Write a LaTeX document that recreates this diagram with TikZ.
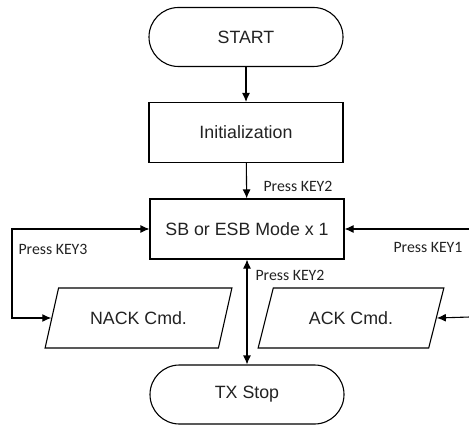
\documentclass[tikz,border=0pt]{standalone}
\usepackage{fontspec}
\setmainfont{Liberation Sans}
\newfontfamily\labfont{Carlito}
\usetikzlibrary{arrows.meta,shapes.geometric}
\definecolor{txt}{HTML}{222222}
\begin{document}
\begin{tikzpicture}[x=1pt,y=-1pt,
  line width=1.1pt,
  >={Latex[length=9pt,width=8pt]},
  every node/.style={text=txt},
  base/.style={draw=black,line width=1.1pt,inner sep=0pt,font=\fontsize{17.8}{20}\selectfont},
  terminal/.style={base,rounded corners=29.5pt,minimum width=194pt,minimum height=59pt},
  procbox/.style={base,minimum width=194pt,minimum height=60pt},
  iobox/.style={base,trapezium,trapezium left angle=58,trapezium right angle=122,trapezium stretches=true,minimum width=187pt,minimum height=60pt},
  lab/.style={font=\labfont\fontsize{15.8}{18}\selectfont,inner sep=0pt,anchor=west}
]
\useasboundingbox (0,0) rectangle (469,425);
\node[terminal] (start) at (246,37) {START};
\node[procbox] (init) at (246,132.5) {Initialization};
\node[procbox] (sb) at (247,229) {SB or ESB Mode x 1};
\node[iobox] (nack) at (138.5,318) {NACK Cmd.};
\node[iobox] (ack) at (351,318) {ACK Cmd.};
\node[terminal] (tx) at (247,394.5) {TX Stop};
\coordinate (lx) at (12,273);
\coordinate (r1) at (470,229);
\coordinate (r2) at (470,317);
\draw[->] (start) -- (init);
\draw[->] (init) -- (sb);
\draw[<->] (sb) -- (tx);
\draw[<->] (sb.west) -| (lx) |- (nack.west);
\draw[->] (r1) -- (sb.east);
\draw[->] (r2) -- (ack.east);
\node[lab] (l1) at (263,186) {Press KEY2};
\node[lab] (l2) at (255,275) {Press KEY2};
\node[lab] (l3) at (18,249) {Press KEY3};
\node[lab] (l4) at (393,247) {Press KEY1};
\end{tikzpicture}
\end{document}
